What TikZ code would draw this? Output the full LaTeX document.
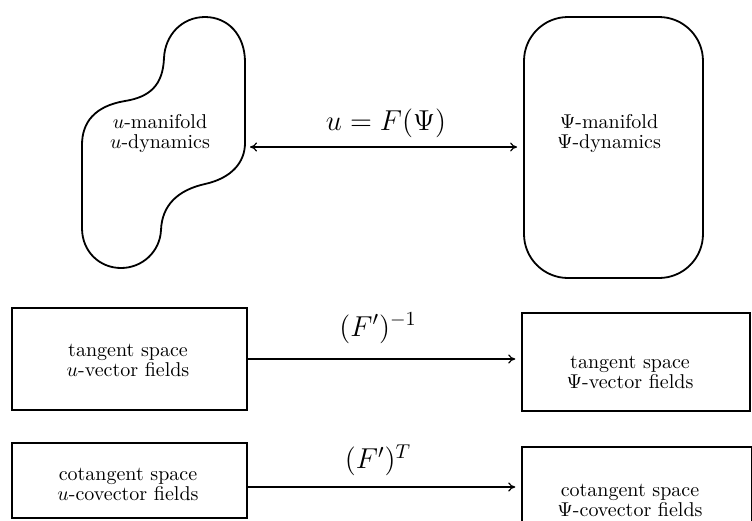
\documentclass[tikz,border=0pt]{standalone}
\usetikzlibrary{arrows.meta}
\begin{document}
\begin{tikzpicture}[x=0.5pt,y=-0.5pt,
  line width=0.8pt,
  boxnode/.style={draw, inner sep=0pt, line width=0.7pt},
  txt/.style={align=center, inner sep=1pt, font=\normalsize},
  maplabel/.style={font=\Large, inner sep=1pt},
  arr/.style={line width=0.6pt, -{To[length=3.5pt,width=4.5pt]}},
  darr/.style={line width=0.6pt, {To[length=3.5pt,width=4.5pt]}-{To[length=3.5pt,width=4.5pt]}}]
\useasboundingbox (0,0) rectangle (752,521);

% u-manifold blob
\draw[line width=0.9pt] (245,143) -- (245,62)
  .. controls (245,35) and (228,17) .. (205,17)
  .. controls (182,17) and (165,35) .. (164,58)
  .. controls (163,85) and (150,97) .. (125,101)
  .. controls (95,106) and (82,122) .. (82,145)
  -- (82,228)
  .. controls (82,252) and (100,268) .. (121,268)
  .. controls (142,268) and (160,252) .. (161,230)
  .. controls (162,205) and (178,190) .. (205,184)
  .. controls (232,178) and (245,162) .. (245,143) -- cycle;
\coordinate (blobE) at (247,147);
\node[txt] (utext) at (160,133) {$u$-manifold\\[-2pt]$u$-dynamics};

% Psi-manifold
\node[draw, line width=0.9pt, rounded corners=22pt, inner sep=0pt,
      minimum width=89.5pt, minimum height=130.5pt] (psi) at (613.5,147.5) {};
\node[txt] (psitext) at (609,133) {$\Psi$-manifold\\[-2pt]$\Psi$-dynamics};

\draw[darr, shorten <=1.5pt, shorten >=3pt] (blobE) -- (blobE -| psi.west);
\node[maplabel] (lab0) at (386,123) {$u = F(\Psi)$};

% tangent spaces
\node[boxnode, minimum width=117.5pt, minimum height=51pt] (tl) at (129.5,359) {};
\node[txt] (tltext) at (128,360) {tangent space\\[-2pt]$u$-vector fields};
\node[boxnode, minimum width=114pt, minimum height=49pt] (tr) at (636,362) {};
\node[txt] (trtext) at (630,372) {tangent space\\[-2pt]$\Psi$-vector fields};
\draw[arr, shorten >=3pt] (tl.east) -- (tl.east -| tr.west);
\node[maplabel] (lab1) at (378,328) {$(F')^{-1}$};

% cotangent spaces
\node[boxnode, minimum width=117.5pt, minimum height=37.5pt] (cl) at (129.5,480.5) {};
\node[txt] (cltext) at (128,484) {cotangent space\\[-2pt]$u$-covector fields};
\node[boxnode, minimum width=115pt, minimum height=39pt] (cr) at (637,486) {};
\node[txt] (crtext) at (630,500) {cotangent space\\[-2pt]$\Psi$-covector fields};
\coordinate (cla) at (247,487);
\draw[arr, shorten >=3pt] (cla) -- (cla -| cr.west);
\node[maplabel] (lab2) at (378,460) {$(F')^{T}$};
\end{tikzpicture}
\end{document}
